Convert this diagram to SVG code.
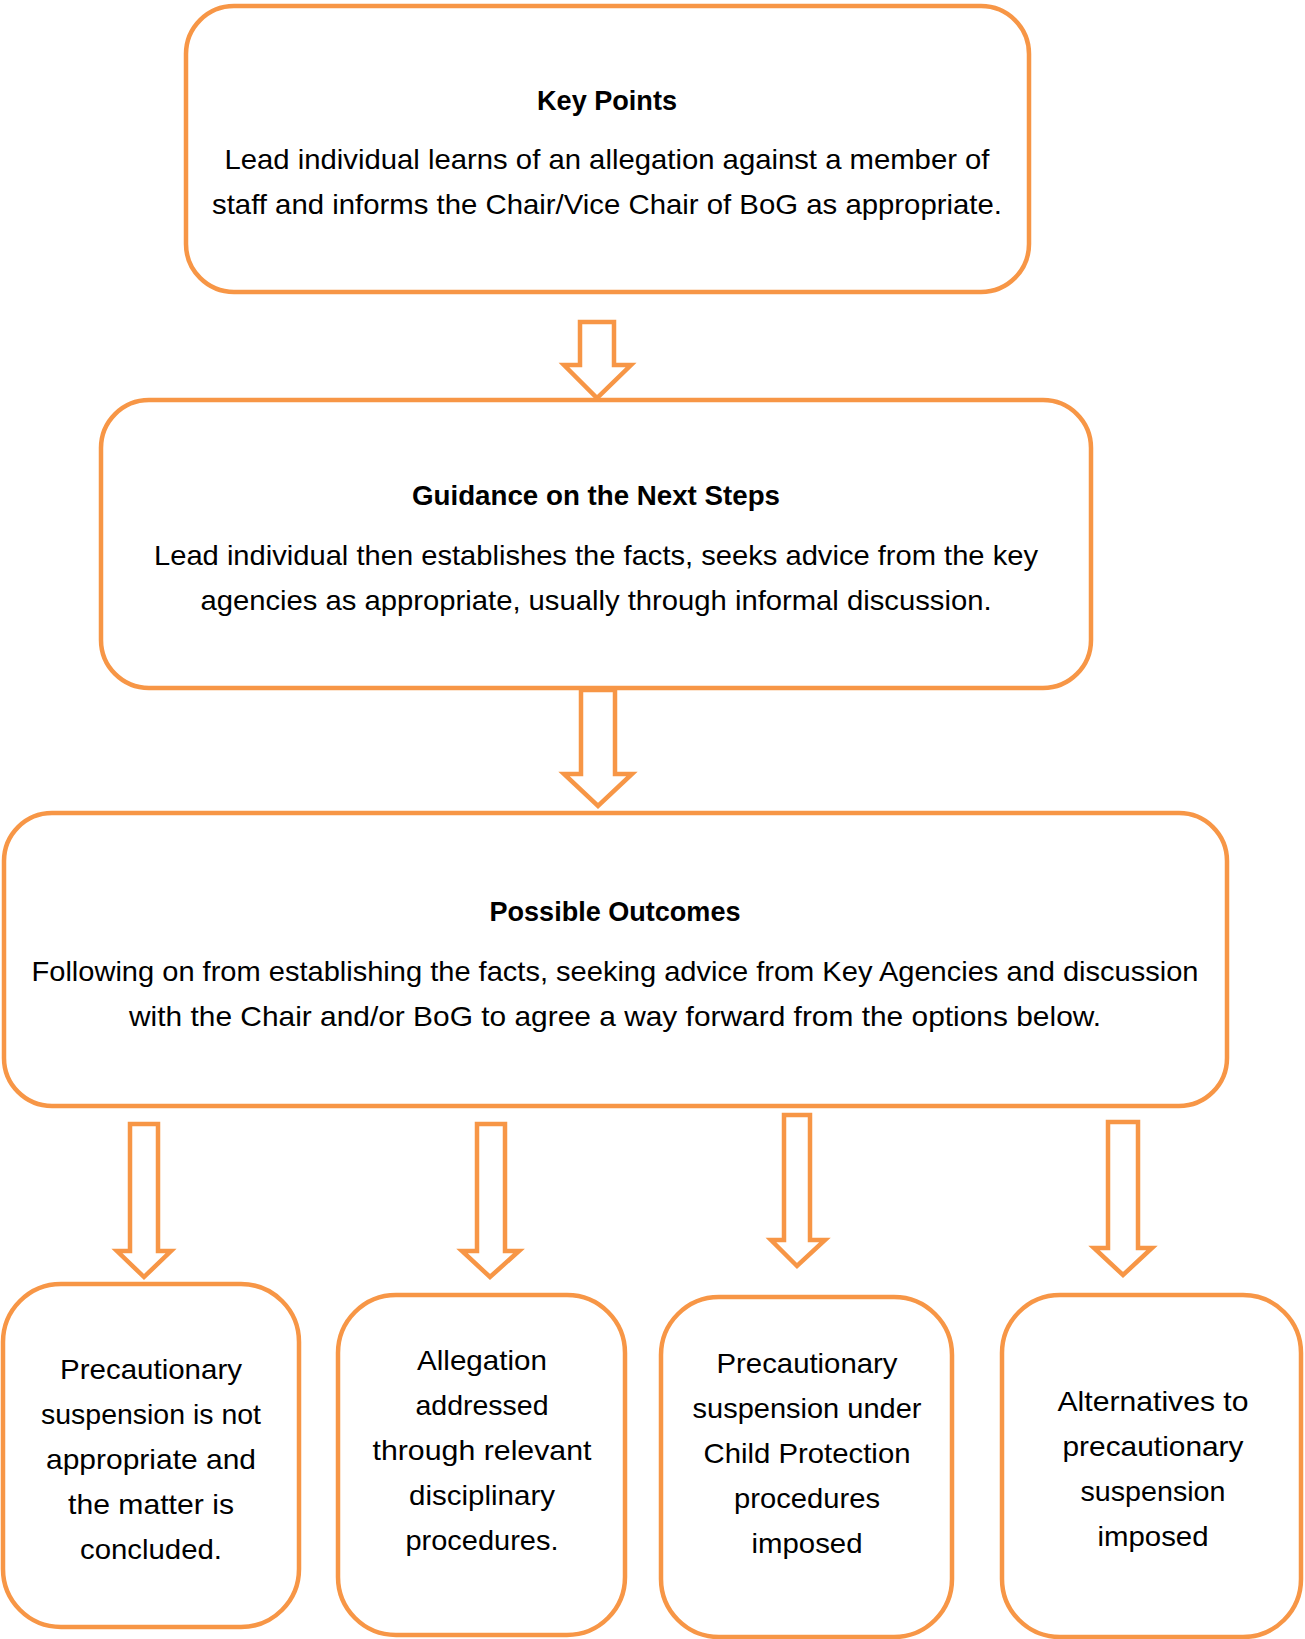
<svg xmlns="http://www.w3.org/2000/svg" width="1305" height="1639" viewBox="0 0 1305 1639">
<style>
.box{fill:#fff;stroke:#F79646;stroke-width:4.5}
.arr{fill:#fff;stroke:#F79646;stroke-width:4.5;stroke-linejoin:miter}
text{font-family:"Liberation Sans",Arial,sans-serif;font-size:28px;fill:#000;text-anchor:middle}
.t{font-weight:bold}
</style>
<rect width="1305" height="1639" fill="#fff"/>
<g id="connectors">
<path class="arr" d="M580,322 L614,322 L614,365 L631,365 L597,398 L564,365 L580,365 Z"/>
<path class="arr" d="M581,690 L615,690 L615,774 L632,774 L598,806 L564,774 L581,774 Z"/>
<path class="arr" d="M130,1124 L158,1124 L158,1251 L171,1251 L144,1277 L117,1251 L130,1251 Z"/>
<path class="arr" d="M477,1124 L505,1124 L505,1251 L519,1251 L490,1277 L462,1251 L477,1251 Z"/>
<path class="arr" d="M784,1115 L810,1115 L810,1240 L825,1240 L797,1266 L771,1240 L784,1240 Z"/>
<path class="arr" d="M1108,1122 L1138,1122 L1138,1248 L1152,1248 L1123,1275 L1094,1248 L1108,1248 Z"/>
</g>
<g id="key-points">
<rect class="box" x="186" y="6" width="843" height="286" rx="48"/>
<text class="t" x="607" y="110" textLength="140" lengthAdjust="spacingAndGlyphs">Key Points</text>
<text x="607" y="169" textLength="765" lengthAdjust="spacingAndGlyphs">Lead individual learns of an allegation against a member of</text>
<text x="607" y="214" textLength="790" lengthAdjust="spacingAndGlyphs">staff and informs the Chair/Vice Chair of BoG as appropriate.</text>
</g>
<g id="next-steps">
<rect class="box" x="101" y="400" width="990" height="288" rx="48"/>
<text class="t" x="596" y="505" textLength="368" lengthAdjust="spacingAndGlyphs">Guidance on the Next Steps</text>
<text x="596" y="565" textLength="884" lengthAdjust="spacingAndGlyphs">Lead individual then establishes the facts, seeks advice from the key</text>
<text x="596" y="610" textLength="791" lengthAdjust="spacingAndGlyphs">agencies as appropriate, usually through informal discussion.</text>
</g>
<g id="outcomes">
<rect class="box" x="4" y="813" width="1223" height="293" rx="48"/>
<text class="t" x="615" y="921" textLength="251" lengthAdjust="spacingAndGlyphs">Possible Outcomes</text>
<text x="615" y="981" textLength="1167" lengthAdjust="spacingAndGlyphs">Following on from establishing the facts, seeking advice from Key Agencies and discussion</text>
<text x="615" y="1026" textLength="972" lengthAdjust="spacingAndGlyphs">with the Chair and/or BoG to agree a way forward from the options below.</text>
</g>
<g id="outcome-1">
<rect class="box" x="3" y="1284" width="296" height="343" rx="58"/>
<text x="151" y="1379" textLength="182" lengthAdjust="spacingAndGlyphs">Precautionary</text>
<text x="151" y="1424" textLength="220" lengthAdjust="spacingAndGlyphs">suspension is not</text>
<text x="151" y="1469" textLength="210" lengthAdjust="spacingAndGlyphs">appropriate and</text>
<text x="151" y="1514" textLength="166" lengthAdjust="spacingAndGlyphs">the matter is</text>
<text x="151" y="1559" textLength="142" lengthAdjust="spacingAndGlyphs">concluded.</text>
</g>
<g id="outcome-2">
<rect class="box" x="338" y="1295" width="287" height="340" rx="58"/>
<text x="482" y="1370" textLength="130" lengthAdjust="spacingAndGlyphs">Allegation</text>
<text x="482" y="1415" textLength="133" lengthAdjust="spacingAndGlyphs">addressed</text>
<text x="482" y="1460" textLength="219" lengthAdjust="spacingAndGlyphs">through relevant</text>
<text x="482" y="1505" textLength="146" lengthAdjust="spacingAndGlyphs">disciplinary</text>
<text x="482" y="1550" textLength="153" lengthAdjust="spacingAndGlyphs">procedures.</text>
</g>
<g id="outcome-3">
<rect class="box" x="661" y="1297" width="291" height="340" rx="58"/>
<text x="807" y="1373" textLength="181" lengthAdjust="spacingAndGlyphs">Precautionary</text>
<text x="807" y="1418" textLength="229" lengthAdjust="spacingAndGlyphs">suspension under</text>
<text x="807" y="1463" textLength="207" lengthAdjust="spacingAndGlyphs">Child Protection</text>
<text x="807" y="1508" textLength="146" lengthAdjust="spacingAndGlyphs">procedures</text>
<text x="807" y="1553" textLength="111" lengthAdjust="spacingAndGlyphs">imposed</text>
</g>
<g id="outcome-4">
<rect class="box" x="1002" y="1295" width="299" height="342" rx="58"/>
<text x="1153" y="1411" textLength="191" lengthAdjust="spacingAndGlyphs">Alternatives to</text>
<text x="1153" y="1456" textLength="181" lengthAdjust="spacingAndGlyphs">precautionary</text>
<text x="1153" y="1501" textLength="145" lengthAdjust="spacingAndGlyphs">suspension</text>
<text x="1153" y="1546" textLength="111" lengthAdjust="spacingAndGlyphs">imposed</text>
</g>
</svg>
